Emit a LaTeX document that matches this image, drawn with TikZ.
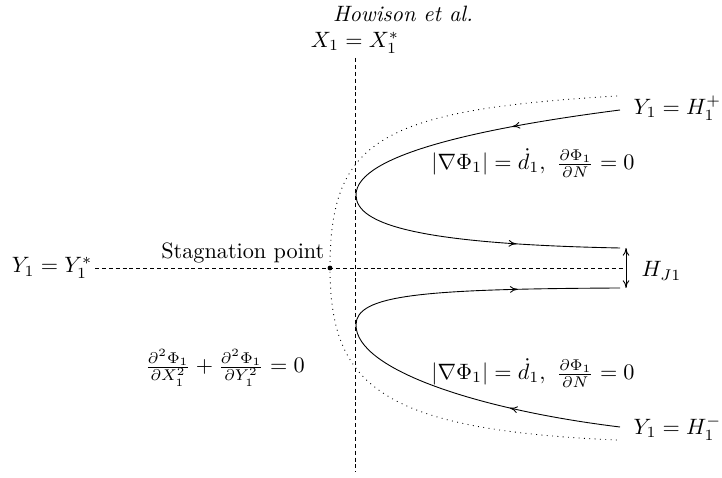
\documentclass[tikz,border=0pt]{standalone}
\usetikzlibrary{arrows.meta,decorations.markings}
\begin{document}
\begin{tikzpicture}[x=0.45pt,y=-0.45pt,
  guide/.style={dash pattern=on 1.8pt off 1.3pt},
  bound/.style={dotted},
  flow/.style={line width=0.4pt},
  midarrow/.style={decoration={markings,mark=at position #1 with {\arrow{To[length=3.5pt,width=3pt]}}},postaction=decorate},
]
\useasboundingbox (0,0) rectangle (722,478);
% title
\node (title) at (403,14) {\textit{Howison et al.}};
% guide lines
\coordinate (vtop) at (355,58);
\coordinate (vbot) at (355,472);
\coordinate (hleft) at (95,268);
\coordinate (hright) at (625,268);
\coordinate (stag) at (330,268);
\draw[guide] (vtop) -- (vbot);
\draw[guide] (hleft) -- (hright);
\fill (stag) circle[radius=1.1pt];
% dotted boundary
\coordinate (dtop) at (617,96);
\coordinate (dbot) at (617,440);
\draw[bound] (dtop) .. controls (380,110) and (330,140) .. (stag)
  .. controls (330,385) and (380,430) .. (dbot);
% upper free streamline
\coordinate (uA) at (620,110);
\coordinate (uV) at (356,195);
\coordinate (uB) at (620,248);
\draw[flow,midarrow=0.38] (uA) .. controls (480,128) and (356,155) .. (uV);
\draw[flow,midarrow=0.63] (uV) .. controls (356,225) and (420,244) .. (uB);
% lower free streamline
\coordinate (lA) at (620,427);
\coordinate (lV) at (356,325);
\coordinate (lB) at (620,288);
\draw[flow,midarrow=0.38] (lA) .. controls (480,410) and (356,370) .. (lV);
\draw[flow,midarrow=0.63] (lV) .. controls (356,295) and (420,289) .. (lB);
% jet thickness
\coordinate (hjt) at (626,248);
\coordinate (hjb) at (626,288);
\draw[{To[length=3.5pt,width=3pt]}-{To[length=3.5pt,width=3pt]}] (hjt) -- (hjb);
% labels
\node (xlab) [anchor=south, inner sep=2pt] at (vtop) {$X_1 = X_1^*$};
\node (ylab) [anchor=east, inner sep=1pt] at (hleft) {$Y_1 = Y_1^*$};
\node (stlab) [anchor=base east, inner sep=1pt] at (327,259) {Stagnation point};
\node (hplus) [anchor=west, inner sep=1pt] at (631,108) {$Y_1 = H_1^+$};
\node (hminus) [anchor=west, inner sep=1pt] at (631,428) {$Y_1 = H_1^-$};
\node (hj) [anchor=west, inner sep=1pt] at (639,271) {$H_{J1}$};
\node (upper) at (533,163) {$|\nabla\Phi_1| = \dot d_1,\ \frac{\partial\Phi_1}{\partial N} = 0$};
\node (lower) at (533,373) {$|\nabla\Phi_1| = \dot d_1,\ \frac{\partial\Phi_1}{\partial N} = 0$};
\node (lap) at (225,368) {$\frac{\partial^2\Phi_1}{\partial X_1^2} + \frac{\partial^2\Phi_1}{\partial Y_1^2} = 0$};
\end{tikzpicture}
\end{document}
